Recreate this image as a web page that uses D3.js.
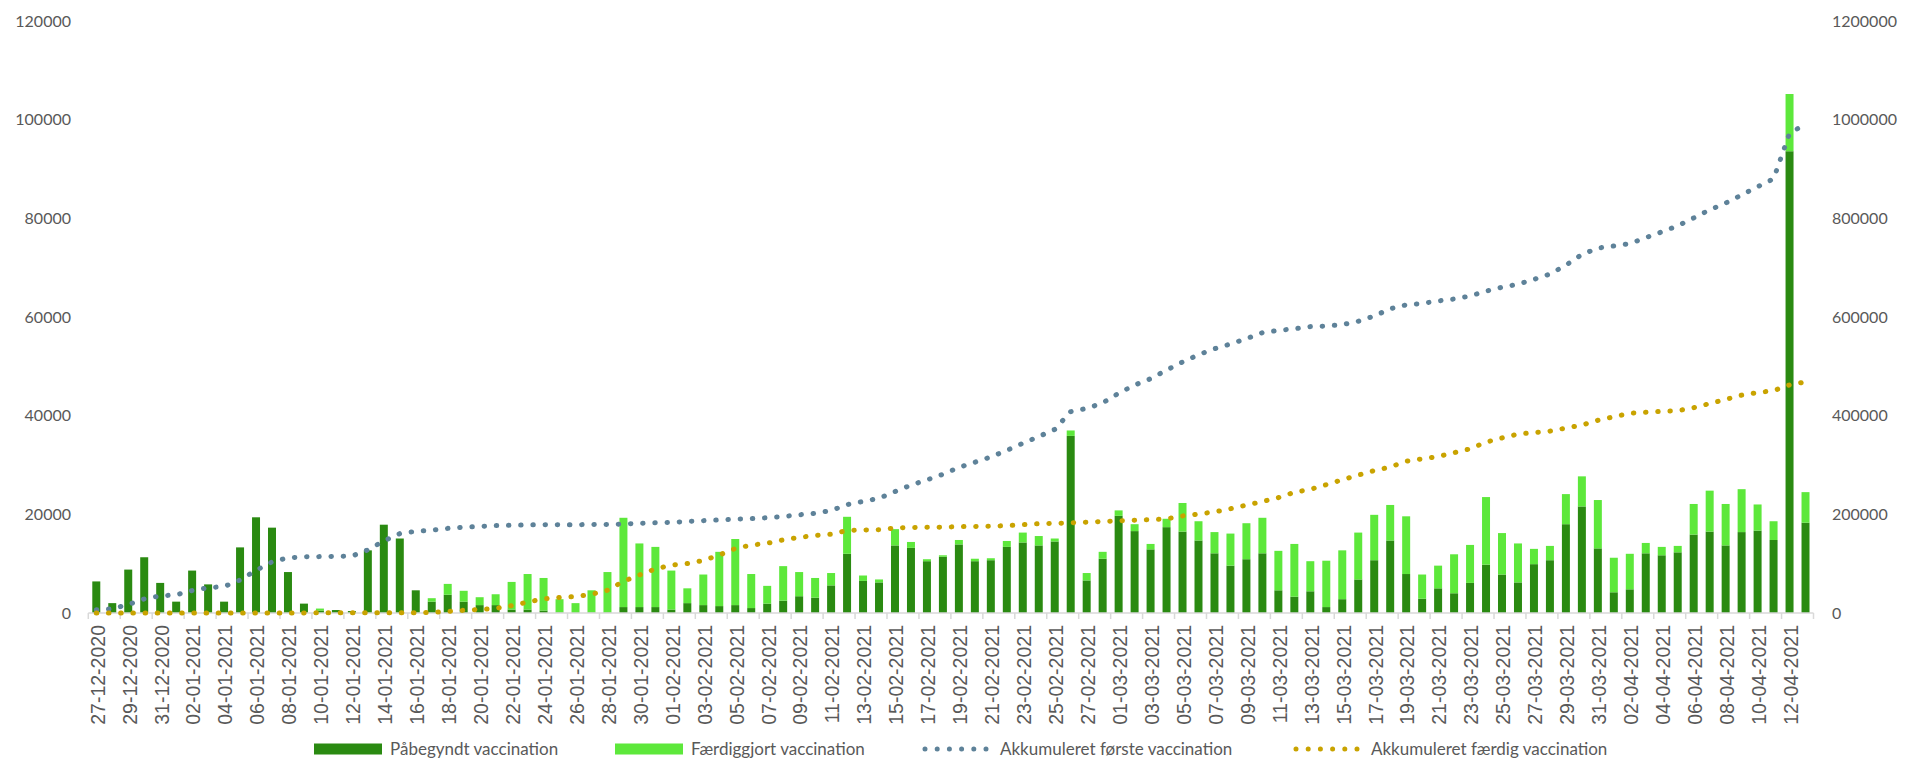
<!DOCTYPE html>
<html>
<head>
  <meta charset="utf-8">
  <title>Vaccinationer</title>
  <script src="https://d3js.org/d3.v7.min.js"></script>
  <style>
    body { margin: 0; background: #fff; }
  </style>
</head>
<body>
  <svg id="grafico" width="1921" height="760"></svg>

  <script>
    const width = 1921;
    const height = 760;

    // Datoer (kategorier)
    const datoer = [
      "27-12-2020","28-12-2020","29-12-2020","30-12-2020","31-12-2020",
      "01-01-2021","02-01-2021","03-01-2021","04-01-2021","05-01-2021","06-01-2021","07-01-2021","08-01-2021","09-01-2021","10-01-2021",
      "11-01-2021","12-01-2021","13-01-2021","14-01-2021","15-01-2021","16-01-2021","17-01-2021","18-01-2021","19-01-2021","20-01-2021",
      "21-01-2021","22-01-2021","23-01-2021","24-01-2021","25-01-2021","26-01-2021","27-01-2021","28-01-2021","29-01-2021","30-01-2021","31-01-2021",
      "01-02-2021","02-02-2021","03-02-2021","04-02-2021","05-02-2021","06-02-2021","07-02-2021","08-02-2021","09-02-2021","10-02-2021",
      "11-02-2021","12-02-2021","13-02-2021","14-02-2021","15-02-2021","16-02-2021","17-02-2021","18-02-2021","19-02-2021","20-02-2021",
      "21-02-2021","22-02-2021","23-02-2021","24-02-2021","25-02-2021","26-02-2021","27-02-2021","28-02-2021",
      "01-03-2021","02-03-2021","03-03-2021","04-03-2021","05-03-2021","06-03-2021","07-03-2021","08-03-2021","09-03-2021","10-03-2021",
      "11-03-2021","12-03-2021","13-03-2021","14-03-2021","15-03-2021","16-03-2021","17-03-2021","18-03-2021","19-03-2021","20-03-2021",
      "21-03-2021","22-03-2021","23-03-2021","24-03-2021","25-03-2021","26-03-2021","27-03-2021","28-03-2021","29-03-2021","30-03-2021","31-03-2021",
      "01-04-2021","02-04-2021","03-04-2021","04-04-2021","05-04-2021","06-04-2021","07-04-2021","08-04-2021","09-04-2021","10-04-2021",
      "11-04-2021","12-04-2021","13-04-2021"
    ];

    // Daglige tal
    const paabegyndt = [
      6400, 2000, 8800, 11300, 6100, 2300, 8600, 5800, 2300, 13300,
      19400, 17300, 8300, 1900, 500, 600, 400, 12700, 17900, 15100,
      4600, 2300, 3700, 2300, 1600, 1600, 700, 700, 500, 100,
      0, 100, 100, 1200, 1200, 1200, 700, 2000, 1600, 1400,
      1600, 1000, 1900, 2500, 3400, 3100, 5600, 12000, 6500, 6200,
      13700, 13200, 10500, 11400, 13900, 10500, 10700, 13400, 14300, 13700,
      14500, 35900, 6600, 11000, 19700, 16600, 12900, 17400, 16500, 14700,
      12100, 9600, 10900, 12100, 4600, 3300, 4400, 1200, 2800, 6800,
      10700, 14700, 7900, 2900, 5000, 4000, 6100, 9800, 7800, 6200,
      9900, 10700, 18000, 21600, 13100, 4200, 4800, 12100, 11700, 12300,
      15900, 16500, 13700, 16400, 16700, 14800, 93600, 18300
    ];

    const faerdiggjort = [
      0, 0, 0, 0, 0, 0, 0, 0, 0, 0,
      0, 0, 0, 0, 400, 0, 0, 0, 0, 0,
      0, 700, 2200, 2200, 1600, 2200, 5600, 7200, 6600, 2700,
      2000, 4500, 8200, 18100, 12900, 12200, 7900, 3000, 6200, 11000,
      13400, 6900, 3600, 7000, 4900, 4000, 2500, 7500, 1100, 600,
      3300, 1200, 400, 300, 900, 500, 400, 1200, 2000, 1900,
      600, 1100, 1500, 1400, 1100, 1400, 1100, 1700, 5800, 3900,
      4300, 6500, 7300, 7200, 8000, 10700, 6100, 9400, 9900, 9500,
      9200, 7200, 11700, 4900, 4600, 7900, 7700, 13700, 8400, 7900,
      3100, 2900, 6100, 6100, 9800, 7000, 7200, 2100, 1700, 1300,
      6200, 8300, 8400, 8700, 5300, 3800, 11600, 6200
    ];

    // Akkumulerede tal (højre akse)
    const akkFoerste = [
      6400, 8400, 17200, 28500, 34600, 36900, 45500, 51300, 53600, 66900,
      86300, 103600, 111900, 113800, 114300, 114900, 115300, 128000, 145900, 161000,
      165600, 167900, 171600, 173900, 175500, 177100, 177800, 178500, 179000, 179100,
      179100, 179200, 179300, 180500, 181700, 182900, 183600, 185600, 187200, 188600,
      190200, 191200, 193100, 195600, 199000, 202100, 207700, 219700, 226200, 232400,
      246100, 259300, 269800, 281200, 295100, 305600, 316300, 329700, 344000, 357700,
      372200, 408100, 414700, 425700, 445400, 462000, 474900, 492300, 508800, 523500,
      535600, 545200, 556100, 568200, 572800, 576100, 580500, 581700, 584500, 591300,
      602000, 616700, 624600, 627500, 632500, 636500, 642600, 652400, 660200, 666400,
      676300, 687000, 705000, 726600, 739700, 743900, 748700, 760800, 772500, 784800,
      800700, 817200, 830900, 847300, 864000, 880000, 972400, 990700
    ];

    const akkFaerdig = [
      0, 0, 0, 0, 0, 0, 0, 0, 0, 0,
      0, 0, 0, 0, 400, 400, 400, 400, 400, 400,
      400, 1100, 3300, 5500, 7100, 9300, 14900, 22100, 28700, 31400,
      33400, 37900, 46100, 64200, 77100, 89300, 97200, 100200, 106400, 117400,
      130800, 137700, 141300, 148300, 153200, 157200, 159700, 167200, 168300, 168900,
      172200, 173400, 173800, 174100, 175000, 175500, 175900, 177100, 179100, 181000,
      181600, 182700, 184200, 185600, 186700, 188100, 189200, 190900, 196700, 200600,
      204900, 211400, 218700, 225900, 233900, 244600, 250700, 260100, 270000, 279500,
      288700, 295900, 307600, 312500, 317100, 325000, 332700, 346400, 354800, 362700,
      365800, 368700, 374800, 380900, 390700, 397700, 404900, 407000, 408700, 410000,
      416200, 424500, 432900, 441600, 446900, 450700, 462300, 468500
    ];

    const venstreTicks = [0, 20000, 40000, 60000, 80000, 100000, 120000];
    const hoejreTicks = [0, 200000, 400000, 600000, 800000, 1000000, 1200000];

    const serier = ["Påbegyndt vaccination", "Færdiggjort vaccination",
      "Akkumuleret første vaccination", "Akkumuleret færdig vaccination"];

    const farver = {
      moerk: "#2A8A11",
      lys: "#5DE83B",
      blaa: "#5E8299",
      guld: "#C9A300",
      tekst: "#595959",
      akse: "#D9D9D9"
    };

    const svg = d3.select("#grafico")
      .attr("width", width)
      .attr("height", height);

    const x = d3.scaleBand()
      .domain(datoer)
      .range([88.3, 1813.5])
      .paddingInner(0.5)
      .paddingOuter(0.25);

    const y = d3.scaleLinear().domain([0, 120000]).range([613, 21]);
    const y2 = d3.scaleLinear().domain([0, 1200000]).range([613, 21]);

    const rows = datoer.map((d, i) => ({ dato: d, p: paabegyndt[i], f: faerdiggjort[i] }));
    const stack = d3.stack().keys(["p", "f"])(rows);

    // Søjler
    svg.append("g")
      .selectAll("g")
      .data(stack)
      .enter().append("g")
      .attr("fill", (d, i) => i === 0 ? farver.moerk : farver.lys)
      .selectAll("rect")
      .data(d => d)
      .enter().append("rect")
      .attr("x", d => x(d.data.dato))
      .attr("width", x.bandwidth())
      .attr("y", d => y(d[1]))
      .attr("height", d => y(d[0]) - y(d[1]));

    // x-akse
    const step = x.step();
    const tickPos = d3.range(0, datoer.length + 1, 2).map(i => 88.3 + i * step);

    const xAkse = svg.append("g");
    xAkse.append("line")
      .attr("x1", 88.3).attr("x2", 1813.5)
      .attr("y1", 613).attr("y2", 613)
      .attr("stroke", farver.akse)
      .attr("stroke-width", 1.5);
    xAkse.selectAll(".tick")
      .data(tickPos)
      .enter().append("line")
      .attr("x1", d => d).attr("x2", d => d)
      .attr("y1", 613).attr("y2", 619)
      .attr("stroke", farver.akse)
      .attr("stroke-width", 1.5);

    xAkse.selectAll("text")
      .data(datoer.filter((d, i) => i % 2 === 0))
      .enter().append("text")
      .attr("transform", d => `translate(${x(d) + x.bandwidth() / 2 + 1.5},625) rotate(-90)`)
      .attr("text-anchor", "end")
      .attr("dy", "0.35em")
      .style("font-family", "'Liberation Sans Narrow', 'Arial Narrow', sans-serif")
      .style("font-size", "19.5px")
      .style("fill", farver.tekst)
      .text(d => d);

    // y-akser
    svg.append("g")
      .selectAll("text")
      .data(venstreTicks)
      .enter().append("text")
      .attr("x", 71)
      .attr("y", d => y(d))
      .attr("dy", "0.35em")
      .attr("text-anchor", "end")
      .style("font-family", "Lato, sans-serif")
      .style("font-size", "16px")
      .style("fill", farver.tekst)
      .text(d => d);

    svg.append("g")
      .selectAll("text")
      .data(hoejreTicks)
      .enter().append("text")
      .attr("x", 1832)
      .attr("y", d => y2(d))
      .attr("dy", "0.35em")
      .attr("text-anchor", "start")
      .style("font-family", "Lato, sans-serif")
      .style("font-size", "16px")
      .style("fill", farver.tekst)
      .text(d => d);

    // Akkumulerede linjer
    const linje = data => d3.line()
      .x((d, i) => x(datoer[i]) + x.bandwidth() / 2)
      .y(d => y2(d))(data);

    [[akkFoerste, farver.blaa], [akkFaerdig, farver.guld]].forEach(([data, farve]) => {
      svg.append("path")
        .attr("d", linje(data))
        .attr("fill", "none")
        .attr("stroke", farve)
        .attr("stroke-width", 5)
        .attr("stroke-linecap", "round")
        .attr("stroke-dasharray", "0.5 11.7");
    });

    // Legende
    const legende = svg.append("g");
    const legX = [314, 615, 925, 1296];
    const legTekstX = [390, 691, 1000, 1371];
    const legY = 749;

    serier.forEach((navn, i) => {
      if (i < 2) {
        legende.append("rect")
          .attr("x", legX[i]).attr("y", legY - 5.5)
          .attr("width", 68).attr("height", 11)
          .attr("fill", i === 0 ? farver.moerk : farver.lys);
      } else {
        legende.append("line")
          .attr("x1", legX[i]).attr("x2", legX[i] + 61)
          .attr("y1", legY).attr("y2", legY)
          .attr("stroke", i === 2 ? farver.blaa : farver.guld)
          .attr("stroke-width", 5)
          .attr("stroke-linecap", "round")
          .attr("stroke-dasharray", "0 12.2");
      }
      legende.append("text")
        .attr("x", legTekstX[i])
        .attr("y", legY)
        .attr("dy", "0.35em")
        .style("font-family", "Lato, sans-serif")
        .style("font-size", "17px")
        .style("fill", farver.tekst)
        .text(navn);
    });
  </script>
</body>
</html>
